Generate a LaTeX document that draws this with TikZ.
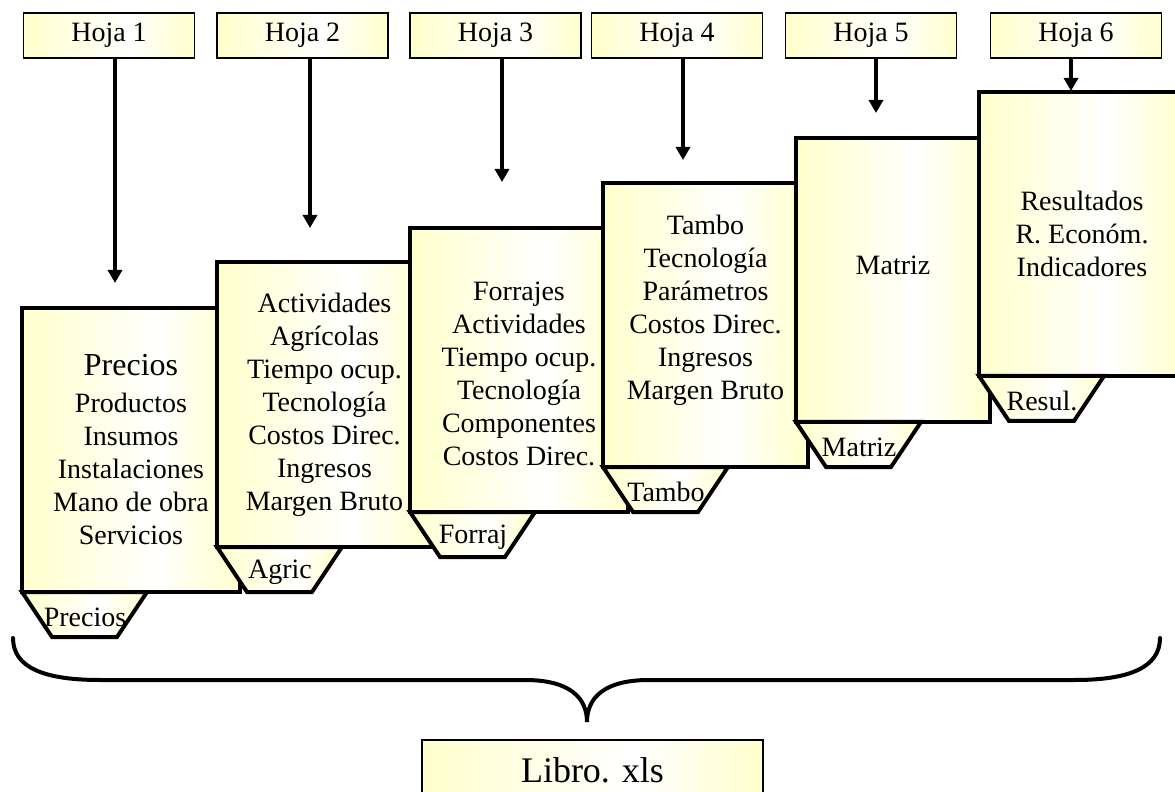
\documentclass[tikz,border=0pt]{standalone}
\usepackage{fontspec}
\setmainfont{Liberation Serif}
\usepackage{tikz}
\usetikzlibrary{arrows.meta,calc,positioning}
\definecolor{hojaam}{HTML}{FFFFCC}
\pgfdeclarehorizontalshading{hojashade}{100bp}{color(0bp)=(hojaam); color(25bp)=(hojaam); color(56bp)=(white); color(75bp)=(hojaam); color(100bp)=(hojaam)}

\begin{document}
\begin{tikzpicture}[x=0.5pt,y=-0.5pt,
    hoja/.style={draw, line width=0.8pt, shade, shading=hojashade, inner sep=0pt,
      minimum width=85.5pt, minimum height=22.5pt, font=\fontsize{14}{16.5}\selectfont},
    planilla/.style={draw, line width=2pt, shade, shading=hojashade, anchor=north west,
      inner sep=0pt, outer sep=0pt, minimum height=142pt},
    lista/.style={align=center, font=\fontsize{14}{16.5}\selectfont},
    pestana/.style={draw, line width=2pt, shade, shading=hojashade},
    flecha/.style={line width=2pt, -{Triangle[width=7pt,length=6.5pt]}},
    llave/.style={line width=2pt, line cap=round}]

  \useasboundingbox (0,0) rectangle (1175,792);
  \clip (0,0) rectangle (1175,792);

  % hojas del libro
  \node[hoja] (h1) at (109,35.5) {Hoja 1};
  \node[hoja] (h2) at (302.5,35.5) {Hoja 2};
  \node[hoja] (h3) at (495.5,35.5) {Hoja 3};
  \node[hoja] (h4) at (677,35.5) {Hoja 4};
  \node[hoja] (h5) at (871,35.5) {Hoja 5};
  \node[hoja] (h6) at (1076,35.5) {Hoja 6};

  \coordinate (f1) at (115,283);
  \coordinate (f2) at (310,228);
  \coordinate (f3) at (502,182);
  \coordinate (f4) at (683,160);
  \coordinate (f5) at (876,113);
  \coordinate (f6) at (1071,91);

  \draw[flecha] (h1.south -| f1) -- (f1);
  \draw[flecha] (h2.south -| f2) -- (f2);
  \draw[flecha] (h3.south -| f3) -- (f3);
  \draw[flecha] (h4.south -| f4) -- (f4);
  \draw[flecha] (h5.south -| f5) -- (f5);
  \draw[flecha] (h6.south -| f6) -- (f6);

  % Precios
  \node[planilla, minimum width=109pt] (s1) at (22,308) {};
  \node[lista] (l1) at (s1.center) {{\fontsize{16}{18}\selectfont Precios}\\[2pt]
    Productos\\ Insumos\\ Instalaciones\\ Mano de obra\\ Servicios};
  \draw[pestana] (s1.south west) -- ++(30,45) -- ++(65,0) -- ++(30,-45) -- cycle;
  \node[lista] (p1) at ($(s1.south west)+(63,25)$) {Precios};

  % Agric
  \node[planilla, minimum width=107.5pt, minimum height=142.5pt] (s2) at (217,262) {};
  \node[lista] (l2) at (s2.center) {Actividades\\ Agrícolas\\ Tiempo ocup.\\ Tecnología\\
    Costos Direc.\\ Ingresos\\ Margen Bruto};
  \draw[pestana] (s2.south west) -- ++(30,45) -- ++(65,0) -- ++(30,-45) -- cycle;
  \node[lista] (p2) at ($(s2.south west)+(63,25)$) {Agric};

  % Forraj
  \node[planilla, minimum width=109pt] (s3) at (410,228) {};
  \node[lista] (l3) at ([yshift=-2pt]s3.center) {Forrajes\\ Actividades\\ Tiempo ocup.\\
    Tecnología\\ Componentes\\ Costos Direc.};
  \draw[pestana] (s3.south west) -- ++(30,45) -- ++(65,0) -- ++(30,-45) -- cycle;
  \node[lista] (p3) at ($(s3.south west)+(63,25)$) {Forraj};

  % Tambo
  \node[planilla, minimum width=102.5pt] (s4) at (603,183) {};
  \node[lista] (l4) at ([yshift=7.5pt]s4.center) {Tambo\\ Tecnología\\ Parámetros\\
    Costos Direc.\\ Ingresos\\ Margen Bruto};
  \draw[pestana] (s4.south west) -- ++(30,45) -- ++(65,0) -- ++(30,-45) -- cycle;
  \node[lista] (p4) at ($(s4.south west)+(63,25)$) {Tambo};

  % Matriz
  \node[planilla, minimum width=97pt] (s5) at (796,138) {};
  \node[lista] (l5) at ([yshift=7.5pt]s5.center) {Matriz};
  \draw[pestana] (s5.south west) -- ++(30,45) -- ++(65,0) -- ++(30,-45) -- cycle;
  \node[lista] (p5) at ($(s5.south west)+(63,25)$) {Matriz};

  % Resul.
  \node[planilla, minimum width=103pt] (s6) at (979,92) {};
  \node[lista] (l6) at (s6.center) {Resultados\\ R. Económ.\\ Indicadores};
  \draw[pestana] (s6.south west) -- ++(30,45) -- ++(65,0) -- ++(30,-45) -- cycle;
  \node[lista] (p6) at ($(s6.south west)+(63,25)$) {Resul.};

  % llave
  \draw[llave] (13,638) .. controls (13,668) and (45,680) .. (100,680) -- (525,680)
    .. controls (570,680) and (587,698) .. (587,722)
    .. controls (587,698) and (604,680) .. (649,680) -- (1075,680)
    .. controls (1128,680) and (1160,668) .. (1160,638);

  \node[hoja, minimum width=170.5pt, minimum height=30pt,
    font=\fontsize{18}{20}\selectfont] (libro) at (592.5,770) {Libro. xls};
\end{tikzpicture}
\end{document}
